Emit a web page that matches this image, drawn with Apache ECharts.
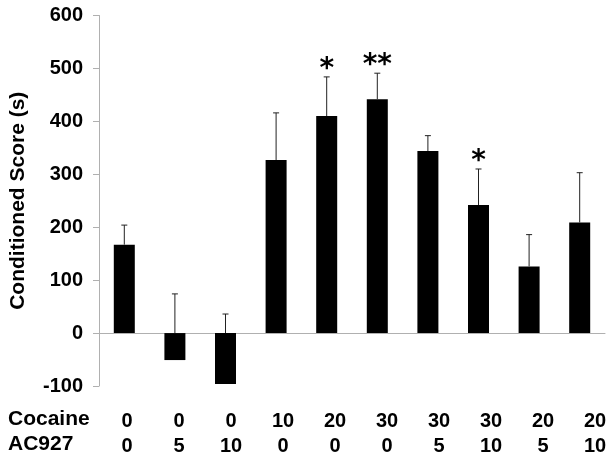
<!DOCTYPE html>
<html>
<head>
<meta charset="utf-8">
<script src="https://cdn.jsdelivr.net/npm/echarts@6/dist/echarts.min.js"></script>
<style>
html, body { margin: 0; padding: 0; background: #fff; }
#box { width: 615px; height: 459px; }
</style>
</head>
<body>
<div id="box"></div>
<script>
// dose table under the bars
var cocaine = ['0', '0', '0', '10', '20', '30', '30', '30', '20', '20']
var ac927 = ['0', '5', '10', '0', '0', '0', '5', '10', '5', '10']
// conditioned score (s), mean and upper error
var scores = [167, -51, -96, 327, 410, 442, 344, 242, 126, 209]
var errors = [37, 125, 132, 89, 74, 49, 29, 68, 60, 94]
var stars = ['', '', '', '', '*', '**', '', '*', '', '']
var rowNames = ['Cocaine', 'AC927']

var font = 'Liberation Sans'
var axisGray = '#b0b0b0'

var categories = cocaine.map(function (c, i) { return c + '\n' + ac927[i] })
var errData = scores.map(function (v, i) { return [i, v, v + errors[i]] })

var chart = echarts.init(document.getElementById('box'))
var option = {
    animation: false,
    grid: [
        { left: 99, right: 10, top: 15.5, bottom: 73, outerBoundsMode: 'none' },
        { left: 101, width: 520, top: 399, height: 1, outerBoundsMode: 'none' }
    ],
    xAxis: [{
        type: 'category',
        gridIndex: 0,
        data: categories,
        axisLine: { onZero: true, lineStyle: { color: axisGray, width: 1 } },
        axisTick: { length: 5, lineStyle: { color: axisGray } },
        axisLabel: { show: false }
    }, {
        type: 'category',
        gridIndex: 1,
        data: categories,
        axisLine: { show: false },
        axisTick: { show: false },
        axisLabel: {
            interval: 0,
            margin: 9,
            fontFamily: font,
            fontWeight: 'bold',
            fontSize: 20,
            lineHeight: 25,
            color: '#000'
        }
    }],
    yAxis: [{
        type: 'value',
        gridIndex: 0,
        min: -100,
        max: 600,
        interval: 100,
        name: 'Conditioned Score (s)',
        nameLocation: 'middle',
        nameGap: 70,
        nameTextStyle: { fontFamily: font, fontWeight: 'bold', fontSize: 21, color: '#000' },
        axisLine: { show: true, lineStyle: { color: axisGray, width: 1 } },
        axisTick: { show: true, length: 6, lineStyle: { color: axisGray } },
        splitLine: { show: false },
        axisLabel: { margin: 16, fontFamily: font, fontWeight: 'bold', fontSize: 20, color: '#000' }
    }, {
        type: 'value',
        gridIndex: 1,
        show: false
    }],
    graphic: rowNames.map(function (name, i) {
        return {
            type: 'text',
            left: 8,
            top: 409 + i * 25,
            style: { text: name, fontFamily: font, fontWeight: 'bold', fontSize: 21, fill: '#000' }
        }
    }),
    series: [{
        type: 'bar',
        data: scores,
        barWidth: 21,
        itemStyle: { color: '#000' }
    }, {
        type: 'custom',
        data: errData,
        encode: { x: 0, y: [1, 2] },
        z: 3,
        renderItem: function (params, api) {
            var i = api.value(0)
            var base = api.coord([i, Math.max(api.value(1), 0)])
            var top = api.coord([i, api.value(2)])
            var lineStyle = { stroke: '#222', lineWidth: 1 }
            var children = [
                { type: 'line', shape: { x1: base[0], y1: base[1], x2: top[0], y2: top[1] }, style: lineStyle },
                { type: 'line', shape: { x1: top[0] - 3, y1: top[1], x2: top[0] + 3, y2: top[1] }, style: lineStyle }
            ]
            if (stars[i]) {
                children.push({
                    type: 'text',
                    style: {
                        text: stars[i], x: top[0], y: top[1] + 7,
                        align: 'center', verticalAlign: 'bottom',
                        fontFamily: 'DejaVu Sans', fontWeight: 'bold', fontSize: 28, fill: '#000'
                    }
                })
            }
            return { type: 'group', children: children }
        }
    }]
}
chart.setOption(option)
</script>
</body>
</html>
